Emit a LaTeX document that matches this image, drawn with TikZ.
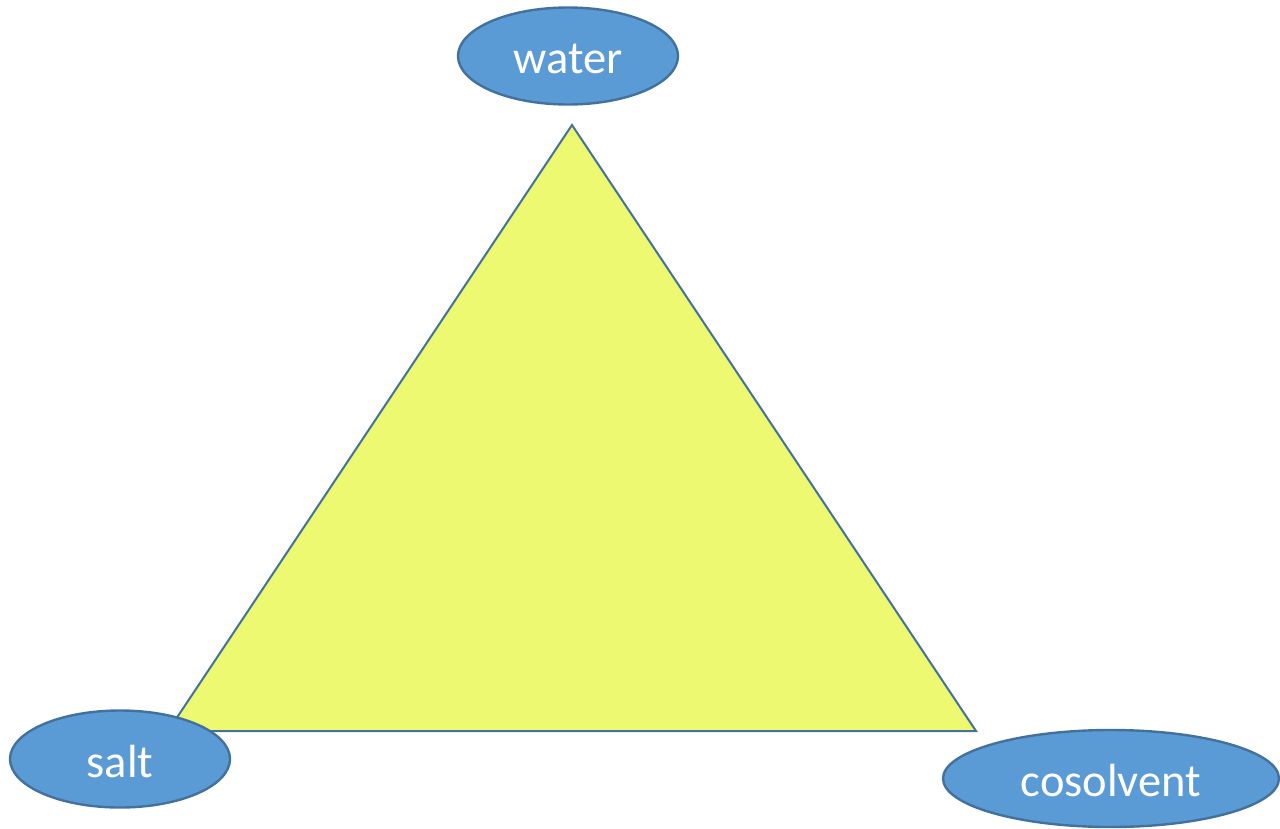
\documentclass[tikz,border=0pt]{standalone}
\usepackage{fontspec}
\setmainfont{Carlito}
\usetikzlibrary{shapes.geometric}
\definecolor{ellfill}{HTML}{5B9BD5}
\definecolor{ellline}{HTML}{41719C}
\definecolor{trifill}{HTML}{EEF972}
\definecolor{triline}{HTML}{41719C}
\tikzset{
  comp/.style={ellipse, draw=ellline, fill=ellfill, line width=2.4pt, inner sep=0pt,
    minimum height=97pt},
  complabel/.style={text=white, font=\fontsize{46.5}{54}\selectfont, inner sep=0pt},
}
\begin{document}
\begin{tikzpicture}[x=1pt,y=-1pt]
\useasboundingbox (0,0) rectangle (1280,828);
\coordinate (apex) at (572,125);
\coordinate (bl) at (168,731);
\coordinate (br) at (976,731);
\filldraw[fill=trifill, draw=triline, line width=2pt, line join=miter] (apex) -- (br) -- (bl) -- cycle;
\node[comp, minimum width=220pt] (water) at (568,56) {};
\node[complabel] (waterlabel) at ([yshift=-2.5pt]water.center) {water};
\node[comp, minimum width=220pt] (salt) at (120,759) {};
\node[complabel] (saltlabel) at ([yshift=-2.5pt]salt.center) {salt};
\node[comp, minimum width=336pt] (cosolvent) at (1111,778.5) {};
\node[complabel] (cosolventlabel) at ([yshift=-2.5pt]cosolvent.center) {cosolvent};
\end{tikzpicture}
\end{document}
